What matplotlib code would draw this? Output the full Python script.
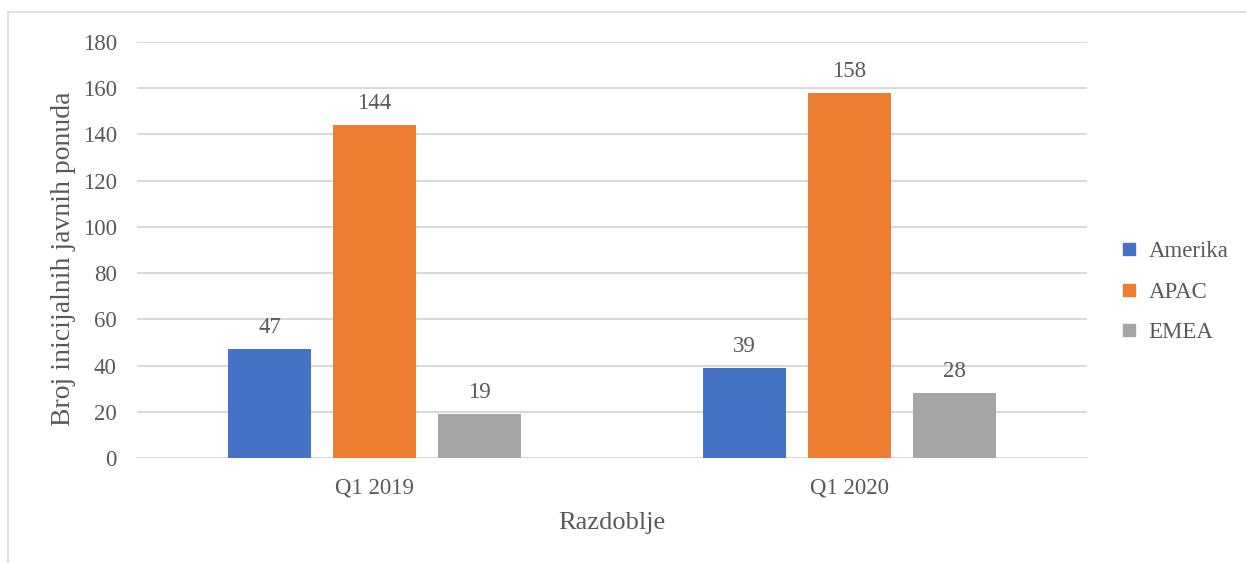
import matplotlib
matplotlib.use("Agg")
import matplotlib.pyplot as plt
from matplotlib.lines import Line2D
import numpy as np

categories = ["Q1 2019", "Q1 2020"]
series_names = ["Amerika", "APAC", "EMEA"]
amerika = [47, 39]
apac = [144, 158]
emea = [19, 28]
colors = ["#4472C4", "#ED7D31", "#A5A5A5"]
yticks = [0, 20, 40, 60, 80, 100, 120, 140, 160, 180]

plt.rcParams['font.family'] = ['Liberation Serif', 'DejaVu Serif']
txt = "#595959"
fs = 16.5

W, H = 1246, 563
fig = plt.figure(figsize=(W/100, H/100), dpi=100)
ax = fig.add_axes([137/W, 1-458/H, (1087-137)/W, (458-42)/H])

x = np.arange(len(categories))
bw = 0.175
step = 0.221
for i, (vals, name) in enumerate(zip([amerika, apac, emea], series_names)):
    pos = x + (i-1)*step
    ax.bar(pos, vals, width=bw, color=colors[i], label=name, zorder=3)
    for p, v in zip(pos, vals):
        ax.annotate(str(v), (p, v), xytext=(0, 8), textcoords="offset points",
                    ha="center", va="bottom", fontsize=fs, color=txt)

ax.set_xlim(-0.5, 1.5)
ax.set_ylim(0, 180)
ax.set_yticks(yticks)
ax.set_xticks(x)
ax.set_xticklabels(categories)
ax.yaxis.grid(True, color="#D9D9D9", linewidth=1.5, zorder=0)
for s in ax.spines.values():
    s.set_visible(False)
ax.tick_params(axis="both", length=0, labelsize=fs, colors=txt)
ax.tick_params(axis="y", pad=14.5)
ax.tick_params(axis="x", pad=14)
ax.set_ylabel("Broj inicijalnih javnih ponuda", fontsize=20, color=txt,
              labelpad=5, y=0.478)
ax.set_xlabel("Razdoblje", fontsize=19, color=txt, labelpad=10)

handles = [Line2D([], [], marker="s", linestyle="none", markersize=8.6,
                  markerfacecolor=c, markeredgecolor=c) for c in colors]
fig.legend(handles, series_names, loc="center left",
           bbox_to_anchor=(1120/W, 1-292/H), frameon=False, fontsize=fs,
           labelcolor=txt, handlelength=0.8, handletextpad=0.45,
           labelspacing=0.85, borderaxespad=0, borderpad=0)

# chart border (top and left visible)
fig.add_artist(Line2D([8/W, 1], [1-12/H, 1-12/H], transform=fig.transFigure,
                      color="#D9D9D9", linewidth=1.2))
fig.add_artist(Line2D([8/W, 8/W], [0, 1-12/H], transform=fig.transFigure,
                      color="#D9D9D9", linewidth=1.2))

fig.savefig("out.png", dpi=100)
